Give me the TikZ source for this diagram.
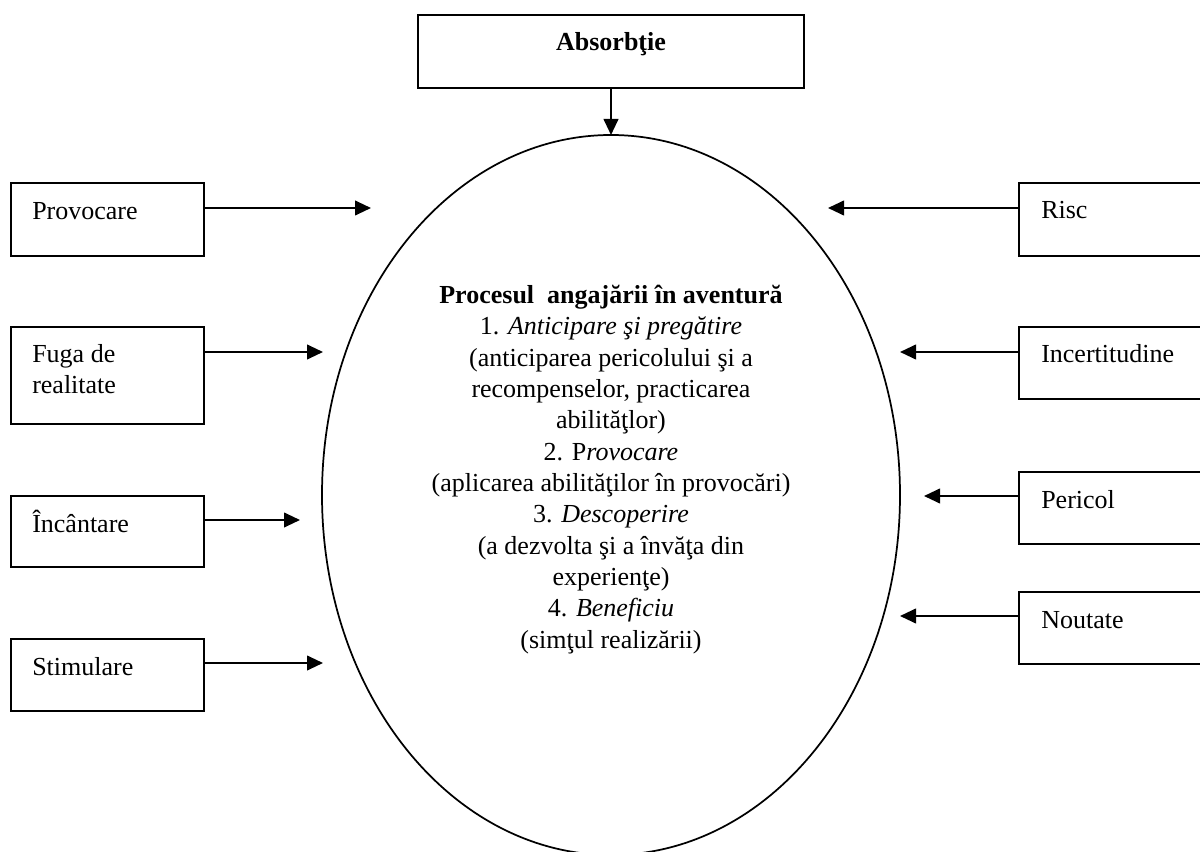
\documentclass[tikz,border=0pt]{standalone}
\usepackage{fontspec}
\setmainfont{Liberation Serif}
\usetikzlibrary{arrows.meta,calc,shapes.geometric}
\begin{document}
\begin{tikzpicture}[x=0.75pt,y=-0.75pt,
  box/.style={draw,line width=1.3pt,rectangle,inner sep=0pt,outer sep=0pt,anchor=north west},
  lbl/.style={anchor=base west,inner sep=0pt,font=\fontsize{19.5}{23}\selectfont,align=left},
  arr/.style={line width=1.5pt,-{Triangle[length=12pt,width=11pt]}}]
\path[use as bounding box,clip] (0,0) rectangle (1200,852);
\fill[white] (0,0) rectangle (1200,852);

% top box
\node[box,minimum width=289.5pt,minimum height=54.75pt] (abs) at (418,15) {};
\node[anchor=base,inner sep=0pt,font=\fontsize{19.5}{23}\selectfont\bfseries] (abst) at (611,51) {Absorbţie};

% ellipse
\node[draw,ellipse,line width=1.3pt,inner sep=0pt,outer sep=0pt,minimum width=433.5pt,minimum height=540pt] (ell) at (611,495) {};
\node[anchor=base,inner sep=0pt,align=center,font=\fontsize{19.5}{23.5}\selectfont] (ctext) at (611,648)
 {\textbf{Procesul~ angajării în aventură}\\
  1. \textit{Anticipare şi pregătire}\\
  (anticiparea pericolului şi a\\
  recompenselor, practicarea\\
  abilităţlor)\\
  2. P\textit{rovocare}\\
  (aplicarea abilităţilor în provocări)\\
  3. \textit{Descoperire}\\
  (a dezvolta şi a învăţa din\\
  experienţe)\\
  4. \textit{Beneficiu}\\
  (simţul realizării)};

\draw[arr] (abs.south) -- (abs.south |- ell.north);

% left boxes
\node[box,minimum width=144.75pt,minimum height=54.75pt] (l1) at (11,183) {};
\node[lbl] (l1t) at (32,220) {Provocare};
\node[box,minimum width=144.75pt,minimum height=72.75pt] (l2) at (11,327) {};
\node[lbl] (l2t) at (32,393) {Fuga de\\realitate};
\node[box,minimum width=144.75pt,minimum height=53.25pt] (l3) at (11,496) {};
\node[lbl] (l3t) at (32,532) {Încântare};
\node[box,minimum width=144.75pt,minimum height=54pt] (l4) at (11,639) {};
\node[lbl] (l4t) at (32,675) {Stimulare};

\coordinate (le1) at (371,208);
\coordinate (le2) at (323,352);
\coordinate (le3) at (300,520);
\coordinate (le4) at (323,663);
\draw[arr] ($(l1.north east)+(0,25)$) -- (le1);
\draw[arr] ($(l2.north east)+(0,25)$) -- (le2);
\draw[arr] ($(l3.north east)+(0,24)$) -- (le3);
\draw[arr] ($(l4.north east)+(0,24)$) -- (le4);

% right boxes
\node[box,minimum width=147pt,minimum height=54.75pt] (r1) at (1019,183) {};
\node[lbl] (r1t) at (1041,219) {Risc};
\node[box,minimum width=147pt,minimum height=54pt] (r2) at (1019,327) {};
\node[lbl] (r2t) at (1041,363) {Incertitudine};
\node[box,minimum width=147pt,minimum height=54pt] (r3) at (1019,472) {};
\node[lbl] (r3t) at (1041,508) {Pericol};
\node[box,minimum width=147pt,minimum height=54pt] (r4) at (1019,592) {};
\node[lbl] (r4t) at (1041,628) {Noutate};

\coordinate (re1) at (828,208);
\coordinate (re2) at (900,352);
\coordinate (re3) at (924,496);
\coordinate (re4) at (900,616);
\draw[arr] ($(r1.north west)+(0,25)$) -- (re1);
\draw[arr] ($(r2.north west)+(0,25)$) -- (re2);
\draw[arr] ($(r3.north west)+(0,24)$) -- (re3);
\draw[arr] ($(r4.north west)+(0,24)$) -- (re4);
\end{tikzpicture}
\end{document}
